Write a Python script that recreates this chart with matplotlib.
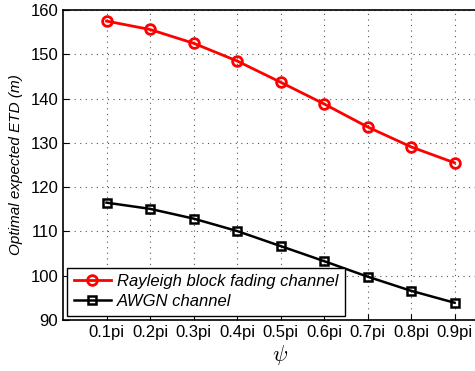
import matplotlib
matplotlib.use("Agg")
import matplotlib.pyplot as plt
import numpy as np

plt.rcParams['font.family'] = ['Liberation Sans', 'DejaVu Sans']
plt.rcParams['mathtext.fontset'] = 'cm'

x_vals = [0.1, 0.2, 0.3, 0.4, 0.5, 0.6, 0.7, 0.8, 0.9]
x_labels = ['0.1pi', '0.2pi', '0.3pi', '0.4pi', '0.5pi', '0.6pi', '0.7pi', '0.8pi', '0.9pi']
rayleigh = [157.5, 155.6, 152.5, 148.5, 143.7, 138.8, 133.6, 129.1, 125.5]
awgn = [116.5, 115.1, 112.9, 110.1, 106.7, 103.3, 99.8, 96.6, 93.9]
y_ticks = [90, 100, 110, 120, 130, 140, 150, 160]

fig = plt.figure(figsize=(4.75, 3.71), dpi=100)
ax = fig.add_axes([63/475, 1 - 320/371, 435/475, 310/371])

ax.plot(x_vals, rayleigh, color='red', lw=2, marker='o', ms=7, mfc='none', mew=2,
        label='Rayleigh block fading channel')
ax.plot(x_vals, awgn, color='black', lw=1.8, marker='s', ms=6, mfc='none', mew=1.8,
        label='AWGN channel')

ax.set_xlim(0, 1)
ax.set_ylim(90, 160)
ax.set_xticks(x_vals)
ax.set_xticklabels(x_labels)
ax.set_yticks(y_ticks)
ax.tick_params(direction='in', labelsize=12, length=4, width=0.8)
ax.grid(True, linestyle=(0, (1, 4)), color='#555555', linewidth=0.8)
for s in ax.spines.values():
    s.set_linewidth(1.2)
ax.spines['right'].set_visible(False)

ax.set_ylabel('Optimal expected ETD (m)', fontsize=11, style='italic', labelpad=5)
ax.set_xlabel(r'$\psi$', fontsize=16, labelpad=2)

leg = ax.legend(loc='lower left', prop={'style': 'italic', 'size': 12},
                fancybox=False, edgecolor='black', framealpha=1,
                borderaxespad=0.25, handlelength=2.2, labelspacing=0.3,
                borderpad=0.4, handletextpad=0.4)
leg.get_frame().set_linewidth(1.0)

fig.savefig('out.png', dpi=100)
